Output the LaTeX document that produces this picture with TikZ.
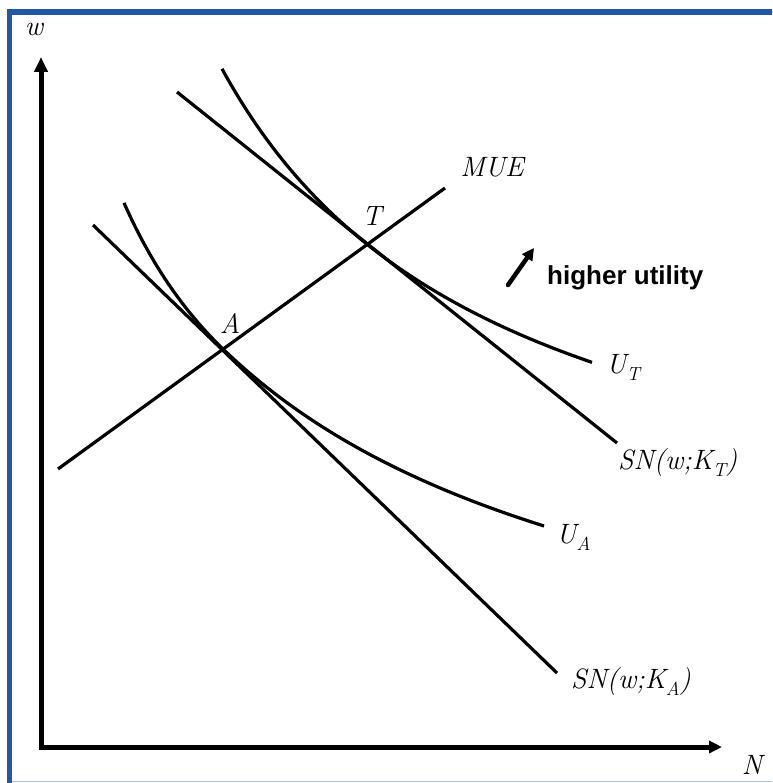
\documentclass[tikz,border=0pt]{standalone}
\usepackage{fontspec}
\newfontfamily\labelsans{Liberation Sans}
\usetikzlibrary{arrows.meta}
\definecolor{framebl}{HTML}{2157A6}
\definecolor{framelight}{HTML}{A9C6E6}
\newcommand{\lowidx}[1]{\raisebox{-0.25em}{\fontsize{19}{21}\selectfont #1}}
\begin{document}
\begin{tikzpicture}[x=1pt,y=-1pt,
  axis/.style={line width=5pt, line join=miter},
  econline/.style={line width=3.2pt},
  lbl/.style={font=\itshape\fontsize{28}{32}\selectfont, inner sep=0pt},
  hint/.style={font=\labelsans\bfseries\fontsize{26}{30}\selectfont, inner sep=0pt}]
\useasboundingbox (0,0) rectangle (772,783);
\clip (0,0) rectangle (772,783);
% frame
\draw[draw=framebl, line width=5.5pt] (9.5,800) -- (9.5,12) -- (800,12);
\draw[draw=framelight, line width=1.5pt] (12,781.5) -- (772,781.5);
% axes
\coordinate (O) at (41,747);
\coordinate (Ytip) at (41,57);
\coordinate (Xtip) at (722,747);
\draw[axis, {Triangle[length=15pt,width=13pt]}-{Triangle[length=13pt,width=12pt]}] (Ytip) -- (O) -- (Xtip);
\node[lbl] (wl) at (34,29) {w};
\node[lbl] (Nl) at (752,765) {N};
% MUE line
\coordinate (m1) at (58,469);
\coordinate (m2) at (445,188);
\draw[econline] (m1) -- (m2);
\node[lbl] (mue) at (492,167) {MUE};
% SN lines
\coordinate (snt1) at (177,92);
\coordinate (snt2) at (617,443);
\draw[econline] (snt1) -- (snt2);
\coordinate (sna1) at (93,225);
\coordinate (sna2) at (557,673);
\draw[econline] (sna1) -- (sna2);
\node[lbl, anchor=base west] (sntl) at (618,469) {SN(w;K\lowidx{T})};
\node[lbl, anchor=base west] (snal) at (571,688) {SN(w;K\lowidx{A})};
% indifference curves
\draw[econline] plot[domain=222:592, samples=80, smooth] (\x, {587.7 - 1473.65/((\x+62)/100)});
\draw[econline] plot[domain=124:223, samples=50, smooth] (\x, {625 - 789.33/((\x+63)/100)})
  -- plot[domain=223:544, samples=80, smooth] (\x, {762 - 1767.73/((\x+205)/100)});
\node[lbl, anchor=base west] (ut) at (606,373) {U\lowidx{T}};
\node[lbl, anchor=base west] (ua) at (556,543) {U\lowidx{A}};
% points
\node[lbl] (Tl) at (372,216) {T};
\node[lbl] (Al) at (230,324) {A};
% higher utility
\coordinate (h1) at (508,285);
\coordinate (h2) at (534,248);
\draw[line width=4.5pt, line cap=round, -{Triangle[length=12pt,width=12pt]}] (h1) -- (h2);
\node[hint, anchor=west] (hu) at (547,278) {higher utility};
\end{tikzpicture}
\end{document}
